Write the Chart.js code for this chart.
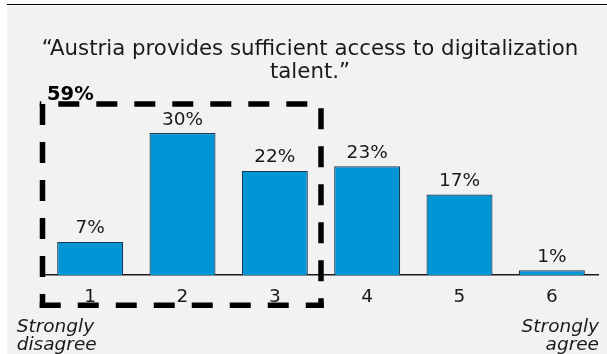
<!DOCTYPE html>
<html>
<head>
<meta charset="utf-8">
<script src="https://cdn.jsdelivr.net/npm/chart.js@4"></script>
<style>
  body { margin: 0; background: #fff; }
  #topline { position: absolute; left: 7px; top: 4px; width: 600px; height: 0; border-top: 1.5px solid #000; }
  #panel { position: absolute; left: 7px; top: 6px; width: 600px; height: 348px; background: #f2f2f2; }
</style>
</head>
<body>
<div id="topline"></div>
<div id="panel"><canvas id="responses" width="600" height="348"></canvas></div>
<script>
var categories = ["1", "2", "3", "4", "5", "6"];
var shares = [7, 30, 22, 23, 17, 1];
var question = ["\u201cAustria provides sufficient access to digitalization", "talent.\u201d"];
var lowEnd = ["Strongly", "disagree"];
var highEnd = ["Strongly", "agree"];
var groupSize = 3; // answers 1-3 get the dashed box

var fontFamily = '"DejaVu Sans", Verdana, sans-serif';
var groupShare = shares.slice(0, groupSize).reduce(function (a, b) { return a + b; }, 0);

function dashedSide(ctx, x1, y1, x2, y2, offset) {
    ctx.lineDashOffset = offset;
    ctx.beginPath();
    ctx.moveTo(x1, y1);
    ctx.lineTo(x2, y2);
    ctx.stroke();
}

var annotations = {
    id: 'annotations',
    afterDatasetsDraw: function (chart) {
        var ctx = chart.ctx;
        var area = chart.chartArea;
        var x = chart.scales.x;
        var bars = chart.getDatasetMeta(0).data;

        ctx.save();
        ctx.fillStyle = '#1a1a1a';
        ctx.textBaseline = 'alphabetic';

        // value labels
        ctx.textAlign = 'center';
        ctx.font = '18.5px ' + fontFamily;
        bars.forEach(function (bar, i) {
            ctx.fillText(shares[i] + '%', bar.x, bar.y - 8.5);
        });

        // question text
        ctx.font = '21.3px ' + fontFamily;
        var cx = (area.left + area.right) / 2 - 11;
        question.forEach(function (line, i) {
            ctx.fillText(line, cx, area.top - 54.4 + i * 22.5);
        });

        // scale end captions
        ctx.font = 'italic 18.5px ' + fontFamily;
        ctx.textAlign = 'left';
        lowEnd.forEach(function (line, i) {
            ctx.fillText(line, area.left - 27.3, area.bottom + 57 + i * 18);
        });
        ctx.textAlign = 'right';
        highEnd.forEach(function (line, i) {
            ctx.fillText(line, area.right + 1, area.bottom + 57 + i * 18);
        });

        // dashed box around the disagree side
        var lw = 5.5, hw = lw / 2;
        var left = area.left - 1.5;
        var right = (x.getPixelForValue(groupSize - 1) + x.getPixelForValue(groupSize)) / 2;
        var top = area.top - 5.4;
        var bottom = area.bottom + 30.2;
        ctx.strokeStyle = '#000';
        ctx.lineWidth = lw;
        ctx.lineCap = 'butt';
        ctx.setLineDash([21, 17]);
        dashedSide(ctx, left - hw, top, right + hw, top, 19.45);
        dashedSide(ctx, right, top, right, bottom + hw, 33.7);
        dashedSide(ctx, left - hw, bottom, right + hw, bottom, 0);
        dashedSide(ctx, left, bottom + hw, left, top, 7);
        ctx.setLineDash([]);

        ctx.font = 'bold 19.5px ' + fontFamily;
        ctx.textAlign = 'left';
        ctx.fillStyle = '#000';
        ctx.fillText(groupShare + '%', left + 4.5, top - 4);
        ctx.restore();
    }
};

var ctx = document.getElementById("responses").getContext('2d');
var myChart = new Chart(ctx, {
    type: 'bar',
    data: {
        labels: categories,
        datasets: [{
            data: shares,
            backgroundColor: '#0095d4',
            borderColor: '#1d3a55',
            borderWidth: 1.2,
            categoryPercentage: 1,
            barPercentage: 0.715
        }]
    },
    options: {
        responsive: false,
        animation: false,
        layout: {
            padding: { left: 37, right: 9, top: 103.4, bottom: 34.8 }
        },
        plugins: {
            legend: { display: false },
            tooltip: { enabled: false }
        },
        scales: {
            x: {
                grid: { display: false, drawTicks: false },
                border: { color: '#1a1a1a', width: 1.5 },
                ticks: {
                    color: '#1a1a1a',
                    padding: 11,
                    font: { family: fontFamily, size: 18.5 }
                }
            },
            y: { display: false, min: 0, max: 35 }
        }
    },
    plugins: [annotations]
});
</script>
</body>
</html>
